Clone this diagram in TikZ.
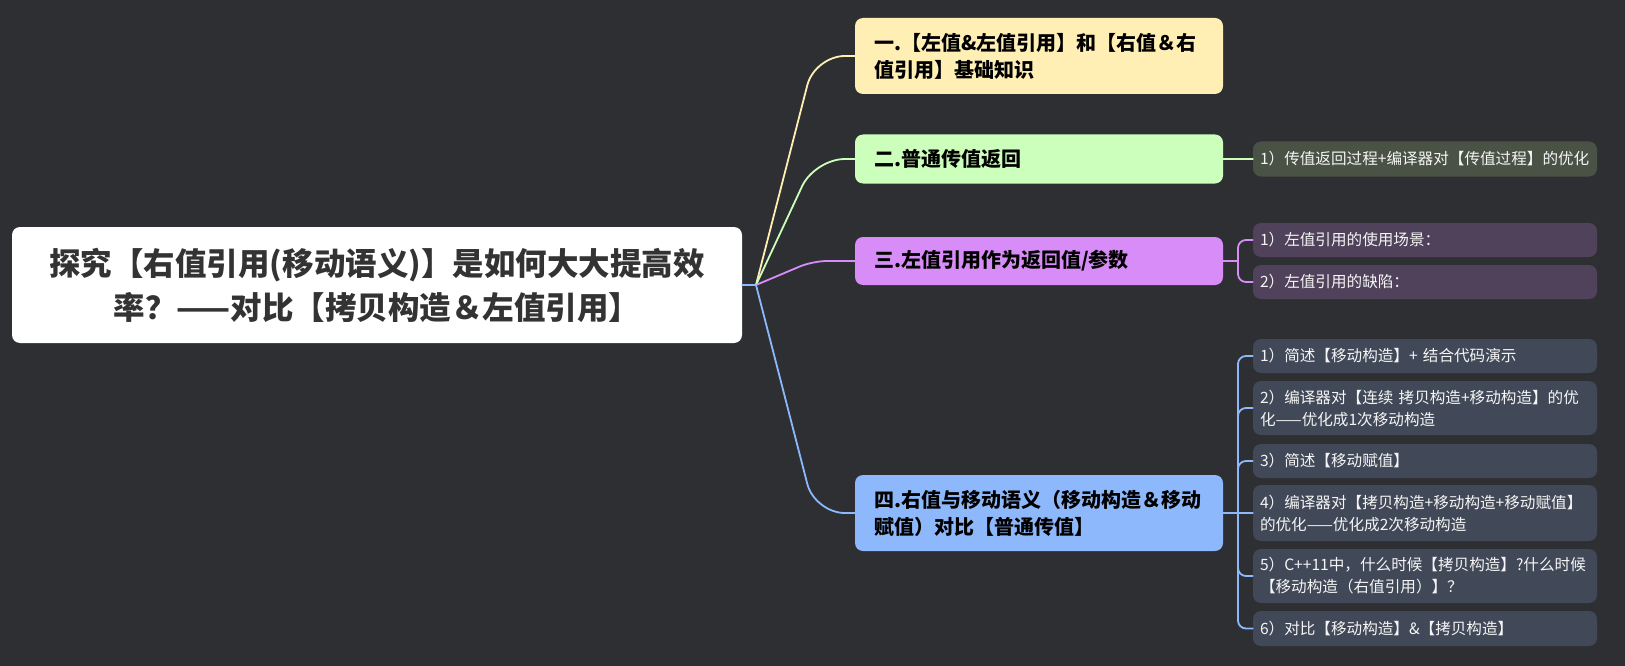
\documentclass[tikz,border=0pt]{standalone}
\usepackage{fontspec}
\setmainfont{Noto Sans CJK SC}
\usepackage{xcolor}
\definecolor{bgdark}{HTML}{2E2F33}
\definecolor{topicA}{HTML}{FFEFB5}
\definecolor{topicB}{HTML}{CCFFBB}
\definecolor{topicC}{HTML}{D88CF8}
\definecolor{topicD}{HTML}{8DB9FC}
\definecolor{leafB}{HTML}{4A5245}
\definecolor{leafC}{HTML}{4F425A}
\definecolor{leafD}{HTML}{414958}
\definecolor{roottext}{HTML}{333333}

\begin{document}
\begin{tikzpicture}[x=1pt,y=-1pt,line cap=round,
  rootbox/.style={fill=white,rounded corners=8pt,minimum width=730pt,minimum height=116pt,inner sep=0pt,align=center,font=\fontsize{31.5}{44}\selectfont\bfseries,text=roottext},
  topicbox/.style={rounded corners=8pt,minimum height=#1,text width=330pt,inner xsep=19pt,inner ysep=0pt,align=left,font=\fontsize{20}{27}\selectfont\bfseries,text=black},
  topicbox/.default=48pt,
  leafbox/.style={rounded corners=8pt,minimum height=#1,text width=330pt,inner xsep=7pt,inner ysep=0pt,align=left,font=\fontsize{15.6}{22}\selectfont,text=white!96!black},
  leafbox/.default=34pt,
  link/.style={line width=1.8pt}]
\fill[bgdark] (0,0) rectangle (1625,666);
\node[rootbox] (root) at (377,285) {探究【右值引用(移动语义)】是如何大大提高效\\率？——对比【拷贝构造＆左值引用】};
\node[topicbox=76pt,fill=topicA] (t1) at (1039,56) {一.【左值\&左值引用】和【右值＆右\\值引用】基础知识};
\node[topicbox=49pt,fill=topicB] (t2) at (1039,159) {二.普通传值返回};
\node[topicbox=48pt,fill=topicC] (t3) at (1039,261) {三.左值引用作为返回值/参数};
\node[topicbox=76pt,fill=topicD] (t4) at (1039,513) {四.右值与移动语义（移动构造＆移动\\赋值）对比【普通传值】};
\node[leafbox=35pt,fill=leafB] (l21) at (1425,159) {1）传值返回过程+编译器对【传值过程】的优化};
\node[leafbox,fill=leafC] (l31) at (1425,240) {1）左值引用的使用场景：};
\node[leafbox,fill=leafC] (l32) at (1425,282) {2）左值引用的缺陷：};
\node[leafbox,fill=leafD] (l41) at (1425,356) {1）简述【移动构造】+ 结合代码演示};
\node[leafbox=54pt,fill=leafD] (l42) at (1425,408) {2）编译器对【连续 拷贝构造+移动构造】的优\\化——优化成1次移动构造};
\node[leafbox,fill=leafD] (l43) at (1425,461) {3）简述【移动赋值】};
\node[leafbox=56pt,fill=leafD] (l44) at (1425,513) {4）编译器对【拷贝构造+移动构造+移动赋值】\\的优化——优化成2次移动构造};
\node[leafbox=54pt,fill=leafD] (l45) at (1425,576) {5）C++11中，什么时候【拷贝构造】?什么时候\\【移动构造（右值引用）】？};
\node[leafbox=35pt,fill=leafD] (l46) at (1425,628.5) {6）对比【移动构造】\&【拷贝构造】};
\coordinate (hub) at (756,285);
\draw[link,topicD] (root.east) -- (hub);
\draw[link,topicA,rounded corners=30pt] (hub) -- ([xshift=-40pt]t1.west) -- (t1.west);
\draw[link,topicB,rounded corners=30pt] (hub) -- ([xshift=-40pt]t2.west) -- (t2.west);
\draw[link,topicC,rounded corners=14pt] (hub) -- ([xshift=-42pt]t3.west) -- (t3.west);
\draw[link,topicD,rounded corners=30pt] (hub) -- ([xshift=-40pt]t4.west) -- (t4.west);
\draw[link,topicB] (t2.east) -- (l21.west);
\coordinate (j3) at (1238,261);
\draw[link,topicC] (t3.east) -- (j3);
\draw[link,topicC,rounded corners=8pt] (j3) |- (l31.west);
\draw[link,topicC,rounded corners=8pt] (j3) |- (l32.west);
\coordinate (j4) at (1238,513);
\draw[link,topicD] (t4.east) -- (l44.west);
\foreach \leaf in {l41,l42,l43,l45,l46}
  \draw[link,topicD,rounded corners=8pt] (j4) |- (\leaf.west);
\end{tikzpicture}
\end{document}
